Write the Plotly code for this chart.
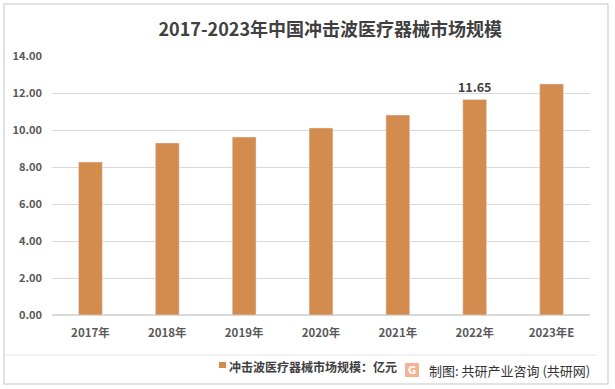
import plotly.graph_objects as go

categories = ["2017年", "2018年", "2019年", "2020年", "2021年", "2022年", "2023年E"]
values = [8.27, 9.30, 9.62, 10.11, 10.81, 11.65, 12.49]
label_texts = ["", "", "", "", "", "11.65", ""]
y_ticks = [0, 2, 4, 6, 8, 10, 12, 14]
y_tick_labels = ["0.00", "2.00", "4.00", "6.00", "8.00", "10.00", "12.00", "14.00"]

bar_color = "#D48B4E"
num_font = "Liberation Sans Narrow, Noto Sans CJK SC, sans-serif"
cjk_font = "Noto Sans CJK SC, sans-serif"

fig = go.Figure()
fig.add_trace(go.Bar(
    x=categories, y=values, marker_color=bar_color, width=0.31,
    text=["<b>%s</b>" % t if t else "" for t in label_texts],
    textposition="outside", cliponaxis=False, constraintext="none",
    textfont=dict(size=12.5, color="#404040", family=num_font),
    showlegend=False,
))

W, H = 615, 389
L, R, T, B = 52, 25, 56, 74

def px(x):
    return (x - L) / (W - L - R)

def py(y):
    return (H - B - y) / (H - T - B)

fig.update_layout(
    width=W, height=H,
    margin=dict(l=L, r=R, t=T, b=B),
    paper_bgcolor="white", plot_bgcolor="white",
    title=dict(text="<b>2017-2023年中国冲击波医疗器械市场规模</b>", x=0.537, xanchor="center",
               y=1 - 30 / H, yanchor="middle",
               font=dict(size=18, color="#404040", family=cjk_font)),
    xaxis=dict(showgrid=False, showline=False, ticks="", ticklabelstandoff=9,
               tickvals=categories, ticktext=["<b>%s</b>" % c for c in categories],
               tickfont=dict(size=11.5, color="#595959", family=num_font)),
    yaxis=dict(range=[0, 14], tickvals=y_ticks, ticktext=["<b>%s</b>" % t for t in y_tick_labels],
               showgrid=True, gridcolor="#D9D9D9", gridwidth=1, zeroline=True,
               zerolinecolor="#D9D9D9", showline=False, ticks="", ticklabelstandoff=9,
               tickfont=dict(size=11, color="#595959", family=num_font)),
)

shapes = [
    dict(type="rect", xref="paper", yref="paper", x0=px(4), x1=px(608), y0=py(384), y1=py(4),
         line=dict(color="#D9D9D9", width=1.5), fillcolor="rgba(0,0,0,0)", layer="below"),
    dict(type="line", xref="paper", yref="paper", x0=px(5), x1=px(597), y0=py(355), y1=py(355),
         line=dict(color="#E5E5E5", width=1)),
    dict(type="rect", xref="paper", yref="paper", x0=px(219), x1=px(226), y0=py(368), y1=py(362),
         line=dict(width=0), fillcolor=bar_color),
    dict(type="rect", xref="paper", yref="paper", x0=px(405), x1=px(419), y0=py(377), y1=py(363),
         line=dict(width=0), fillcolor="#F4A582", opacity=0.85),
]
annotations = [
    dict(xref="paper", yref="paper", x=px(227), y=py(366), xanchor="left", yanchor="middle",
         text="<b>冲击波医疗器械市场规模：亿元</b>", showarrow=False,
         font=dict(size=12, color="#404040", family=cjk_font)),
    dict(xref="paper", yref="paper", x=px(412), y=py(370), xanchor="center", yanchor="middle",
         text="<b>G</b>", showarrow=False,
         font=dict(size=10, color="white", family="DejaVu Sans")),
    dict(xref="paper", yref="paper", x=px(427), y=py(370), xanchor="left", yanchor="middle",
         text="制图: 共研产业咨询 (共研网)", showarrow=False,
         font=dict(size=13, color="#333333", family=cjk_font)),
]
fig.update_layout(shapes=shapes, annotations=annotations)

fig.write_html("out.html", config={"displayModeBar": False},
               post_script="document.body.style.margin='0';")
